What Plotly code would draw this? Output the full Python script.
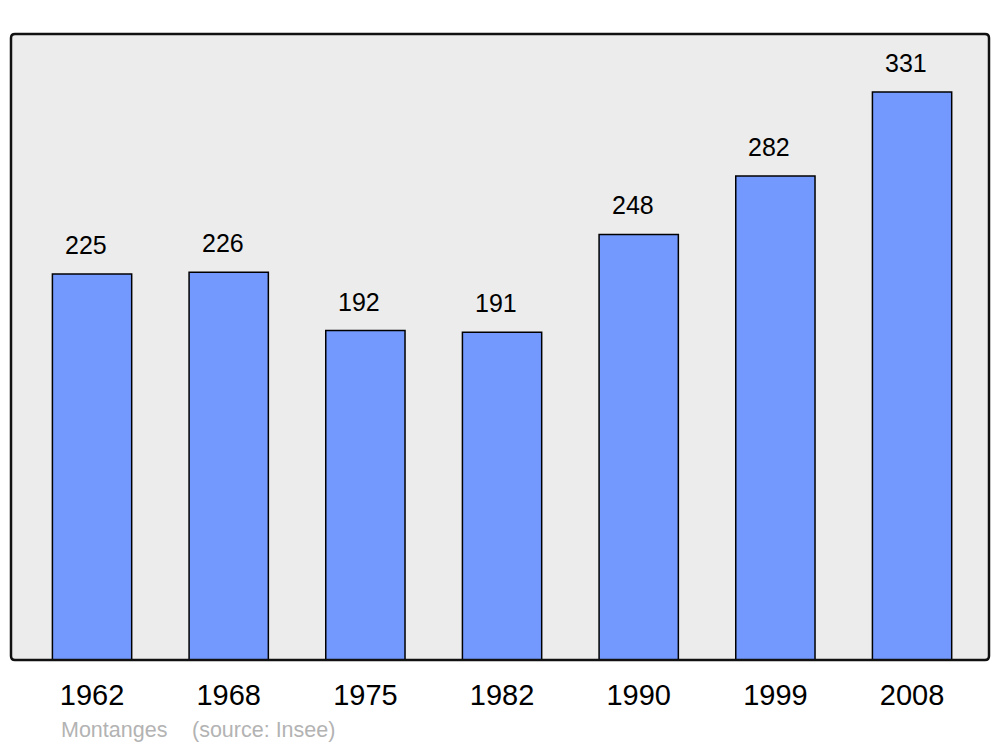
import plotly.graph_objects as go

years = ["1962", "1968", "1975", "1982", "1990", "1999", "2008"]
population = [225, 226, 192, 191, 248, 282, 331]
caption_name = "Montanges"
caption_source = "(source: Insee)"

W, H = 1000, 747
L, R, T, B = 11, 11, 34, 87
pw, ph = W - L - R, H - T - B

xs = list(range(len(years)))

fig = go.Figure()
fig.add_trace(go.Bar(
    x=xs, y=population, width=0.58,
    marker=dict(color="#7399ff", line=dict(color="#000000", width=1.5)),
    hoverinfo="skip",
))

for x, v in zip(xs, population):
    fig.add_annotation(x=x, y=v, text=str(v), showarrow=False,
                       yanchor="bottom", yshift=13, xshift=-6,
                       font=dict(family="Liberation Sans, Arial", size=25, color="#000"))

def rounded(r_px):
    rx, ry = r_px / pw, r_px / ph
    return (f"M {rx},0 L {1-rx},0 Q 1,0 1,{ry} L 1,{1-ry} Q 1,1 {1-rx},1 "
            f"L {rx},1 Q 0,1 0,{1-ry} L 0,{ry} Q 0,0 {rx},0 Z")

fig.add_shape(type="path", xref="paper", yref="paper", path=rounded(4),
              fillcolor="#ececec", line=dict(width=0), layer="below")
fig.add_shape(type="path", xref="paper", yref="paper", path=rounded(4),
              fillcolor="rgba(0,0,0,0)", line=dict(color="#111", width=2.5), layer="above")

fig.add_annotation(xref="paper", yref="paper", x=48/pw, y=-(730-660)/ph,
                   text=caption_name, showarrow=False, xanchor="left", yanchor="middle",
                   font=dict(family="Liberation Sans, Arial", size=21.5, color="#b3b3b3"))
fig.add_annotation(xref="paper", yref="paper", x=179/pw, y=-(730-660)/ph,
                   text=caption_source, showarrow=False, xanchor="left", yanchor="middle",
                   font=dict(family="Liberation Sans, Arial", size=21.5, color="#b3b3b3"))

fig.update_layout(
    width=W, height=H,
    margin=dict(l=L, r=R, t=T, b=B, pad=0),
    paper_bgcolor="#ffffff", plot_bgcolor="rgba(0,0,0,0)",
    showlegend=False,
    xaxis=dict(range=[-0.593, 6.563], tickvals=xs, ticktext=years,
               showgrid=False, zeroline=False, showline=False, ticks="",
               ticklabelstandoff=15,
               tickfont=dict(family="Liberation Sans, Arial", size=29, color="#000")),
    yaxis=dict(range=[0, 364.8], showgrid=False, zeroline=False, showline=False,
               showticklabels=False, ticks=""),
)

fig.write_html("out.html", config={"displayModeBar": False},
               post_script="document.body.style.margin='0';")
